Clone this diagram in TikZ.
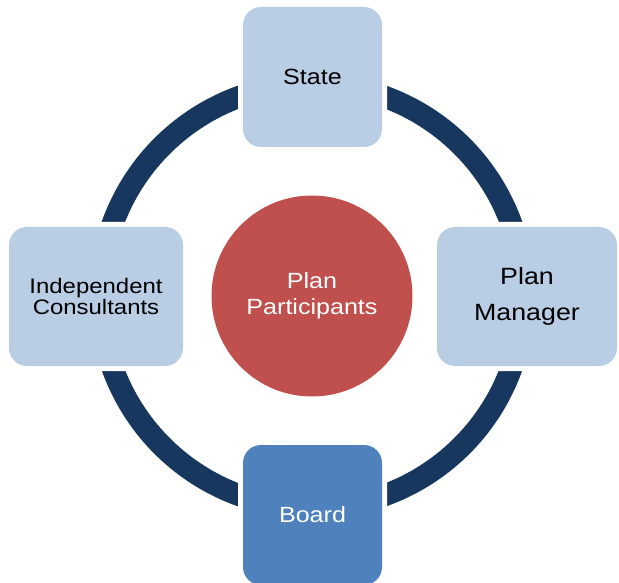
\documentclass[tikz,border=0pt]{standalone}
\usepackage{fontspec}
\setmainfont[FakeStretch=1.14]{Liberation Sans}
\usepackage{tikz}
\usetikzlibrary{positioning}
\definecolor{ringblue}{HTML}{17375E}
\definecolor{paleblue}{HTML}{B9CDE5}
\definecolor{boardblue}{HTML}{4F81BD}
\definecolor{hubred}{HTML}{C0504D}
\tikzset{
  box/.style={rectangle, rounded corners=18pt, fill=paleblue, inner sep=0pt, outer sep=0pt,
    align=center, text=black, preaction={draw=white, line width=10pt}},
  hubnode/.style={circle, fill=hubred, inner sep=0pt, minimum size=201pt, align=center, text=white},
  ring/.style={draw=ringblue, line width=22pt},
  lbl/.style={font=\fontsize{22}{26}\selectfont}
}

\begin{document}
\begin{tikzpicture}[x=1pt, y=-1pt]
    \useasboundingbox (0,0) rectangle (619,583);

    % Centre
    \node[hubnode, lbl] (hub) at (312,296) {Plan\\Participants};

    % Ring behind the boxes
    \draw[ring] (hub) circle[radius=212pt];

    % Boxes around the ring
    \node[box, lbl, minimum width=139pt, minimum height=140pt] (state) at (312.5,77) {State};
    \node[box, font=\fontsize{21}{21.5}\selectfont, minimum width=174pt, minimum height=139pt] (consult) at (96,296.5) {Independent\\Consultants};
    \node[box, font=\fontsize{23.5}{36}\selectfont, minimum width=180pt, minimum height=139pt] (manager) at (527,296.5) {Plan\\Manager};
    \node[box, lbl, fill=boardblue, text=white, minimum width=139pt, minimum height=140pt] (board) at (312.5,515) {Board};
\end{tikzpicture}
\end{document}
